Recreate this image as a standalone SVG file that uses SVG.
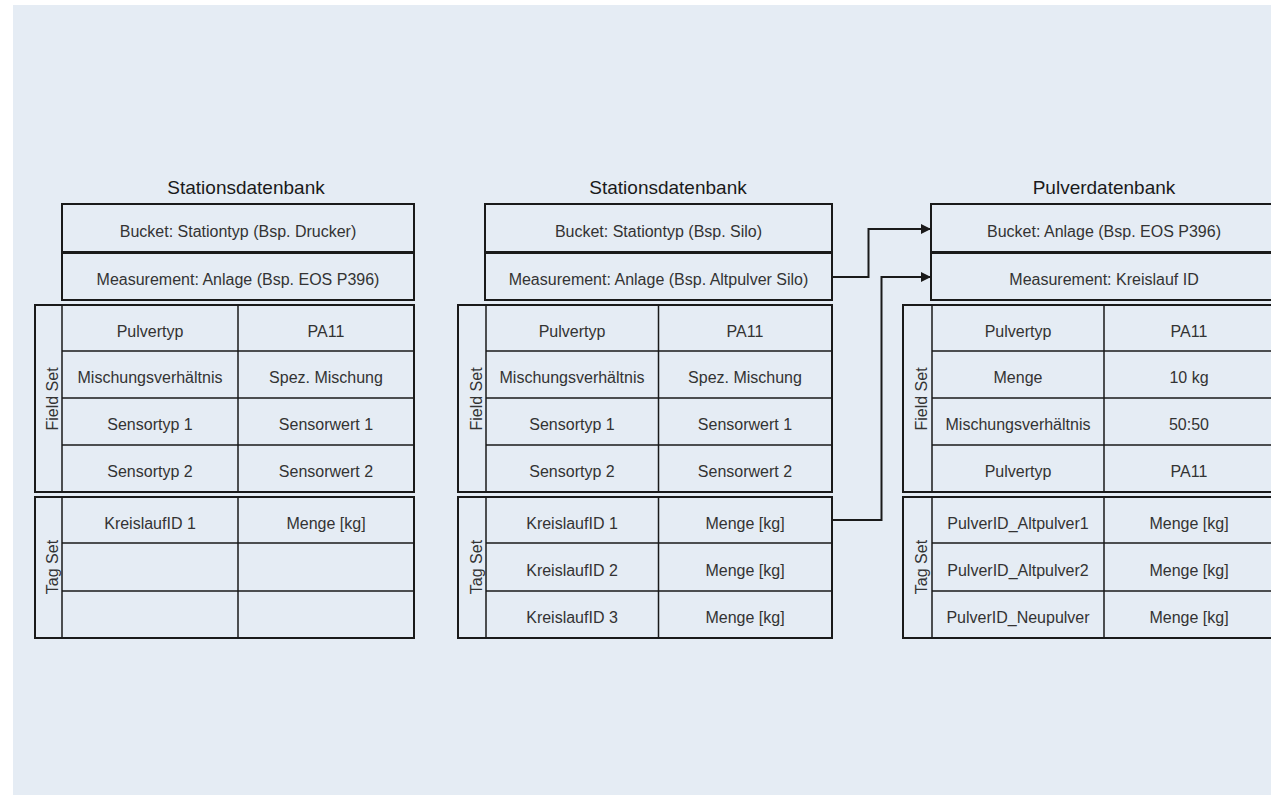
<svg xmlns="http://www.w3.org/2000/svg" width="1271" height="795" viewBox="0 0 1271 795">
  <style>
    .bg { fill: #e5ecf4; }
    .box { fill: none; stroke: #1a1a1a; stroke-width: 2; }
    .grid { fill: none; stroke: #1a1a1a; stroke-width: 1.5; }
    .title { font-family: "Liberation Sans", Arial, sans-serif; font-size: 19px; fill: #1a1a1a; text-anchor: middle; }
    .cell { font-family: "Liberation Sans", Arial, sans-serif; font-size: 16px; fill: #333333; text-anchor: middle; }
    .side { font-family: "Liberation Sans", Arial, sans-serif; font-size: 16px; fill: #333333; text-anchor: middle; }
    .conn { fill: none; stroke: #1a1a1a; stroke-width: 2; }
  </style>
  <defs>
    <marker id="arrow" viewBox="0 0 10 10" refX="10" refY="5" markerWidth="5" markerHeight="5" orient="auto" markerUnits="strokeWidth">
      <path d="M0,0 L10,5 L0,10 Z" fill="#1a1a1a"/>
    </marker>
  </defs>

  <rect class="bg" x="13" y="5" width="1258" height="790"/>

  <!-- Station database: printer -->
  <g id="station-db-printer">
    <text class="title" x="246" y="194">Stationsdatenbank</text>
    <rect class="box" x="62" y="204" width="352" height="48"/>
    <text class="cell" x="238" y="237">Bucket: Stationtyp (Bsp. Drucker)</text>
    <rect class="box" x="62" y="253" width="352" height="47"/>
    <text class="cell" x="238" y="285">Measurement: Anlage (Bsp. EOS P396)</text>

    <g id="printer-field-set">
      <rect class="box" x="35" y="305" width="379" height="187"/>
      <path class="grid" d="M62,305 V492 M238,305 V492 M62,351 H414 M62,398 H414 M62,445 H414"/>
      <text class="side" transform="translate(58,399) rotate(-90)">Field Set</text>
      <text class="cell" x="150" y="337">Pulvertyp</text>
      <text class="cell" x="326" y="337">PA11</text>
      <text class="cell" x="150" y="383">Mischungsverhältnis</text>
      <text class="cell" x="326" y="383">Spez. Mischung</text>
      <text class="cell" x="150" y="430">Sensortyp 1</text>
      <text class="cell" x="326" y="430">Sensorwert 1</text>
      <text class="cell" x="150" y="477">Sensortyp 2</text>
      <text class="cell" x="326" y="477">Sensorwert 2</text>
    </g>

    <g id="printer-tag-set">
      <rect class="box" x="35" y="497" width="379" height="141"/>
      <path class="grid" d="M62,497 V638 M238,497 V638 M62,543 H414 M62,591 H414"/>
      <text class="side" transform="translate(58,567) rotate(-90)">Tag Set</text>
      <text class="cell" x="150" y="529">KreislaufID 1</text>
      <text class="cell" x="326" y="529">Menge [kg]</text>
    </g>
  </g>

  <!-- Station database: silo -->
  <g id="station-db-silo">
    <text class="title" x="668" y="194">Stationsdatenbank</text>
    <rect class="box" x="485" y="204" width="347" height="48"/>
    <text class="cell" x="658.5" y="237">Bucket: Stationtyp (Bsp. Silo)</text>
    <rect class="box" x="485" y="253" width="347" height="47"/>
    <text class="cell" x="658.5" y="285">Measurement: Anlage (Bsp. Altpulver Silo)</text>

    <g id="silo-field-set">
      <rect class="box" x="458" y="305" width="374" height="187"/>
      <path class="grid" d="M486,305 V492 M658.5,305 V492 M486,351 H832 M486,398 H832 M486,445 H832"/>
      <text class="side" transform="translate(481.5,399) rotate(-90)">Field Set</text>
      <text class="cell" x="572" y="337">Pulvertyp</text>
      <text class="cell" x="745" y="337">PA11</text>
      <text class="cell" x="572" y="383">Mischungsverhältnis</text>
      <text class="cell" x="745" y="383">Spez. Mischung</text>
      <text class="cell" x="572" y="430">Sensortyp 1</text>
      <text class="cell" x="745" y="430">Sensorwert 1</text>
      <text class="cell" x="572" y="477">Sensortyp 2</text>
      <text class="cell" x="745" y="477">Sensorwert 2</text>
    </g>

    <g id="silo-tag-set">
      <rect class="box" x="458" y="497" width="374" height="141"/>
      <path class="grid" d="M486,497 V638 M658.5,497 V638 M486,543 H832 M486,591 H832"/>
      <text class="side" transform="translate(481.5,567) rotate(-90)">Tag Set</text>
      <text class="cell" x="572" y="529">KreislaufID 1</text>
      <text class="cell" x="745" y="529">Menge [kg]</text>
      <text class="cell" x="572" y="576">KreislaufID 2</text>
      <text class="cell" x="745" y="576">Menge [kg]</text>
      <text class="cell" x="572" y="623">KreislaufID 3</text>
      <text class="cell" x="745" y="623">Menge [kg]</text>
    </g>
  </g>

  <!-- Powder database -->
  <g id="powder-db">
    <text class="title" x="1104" y="194">Pulverdatenbank</text>
    <rect class="box" x="931" y="204" width="345" height="48"/>
    <text class="cell" x="1104" y="237">Bucket: Anlage (Bsp. EOS P396)</text>
    <rect class="box" x="931" y="253" width="345" height="47"/>
    <text class="cell" x="1104" y="285">Measurement: Kreislauf ID</text>

    <g id="powder-field-set">
      <rect class="box" x="903" y="305" width="373" height="187"/>
      <path class="grid" d="M932,305 V492 M1104,305 V492 M932,351 H1276 M932,398 H1276 M932,445 H1276"/>
      <text class="side" transform="translate(927,399) rotate(-90)">Field Set</text>
      <text class="cell" x="1018" y="337">Pulvertyp</text>
      <text class="cell" x="1189" y="337">PA11</text>
      <text class="cell" x="1018" y="383">Menge</text>
      <text class="cell" x="1189" y="383">10 kg</text>
      <text class="cell" x="1018" y="430">Mischungsverhältnis</text>
      <text class="cell" x="1189" y="430">50:50</text>
      <text class="cell" x="1018" y="477">Pulvertyp</text>
      <text class="cell" x="1189" y="477">PA11</text>
    </g>

    <g id="powder-tag-set">
      <rect class="box" x="903" y="497" width="373" height="141"/>
      <path class="grid" d="M932,497 V638 M1104,497 V638 M932,543 H1276 M932,591 H1276"/>
      <text class="side" transform="translate(927,567) rotate(-90)">Tag Set</text>
      <text class="cell" x="1018" y="529">PulverID_Altpulver1</text>
      <text class="cell" x="1189" y="529">Menge [kg]</text>
      <text class="cell" x="1018" y="576">PulverID_Altpulver2</text>
      <text class="cell" x="1189" y="576">Menge [kg]</text>
      <text class="cell" x="1018" y="623">PulverID_Neupulver</text>
      <text class="cell" x="1189" y="623">Menge [kg]</text>
    </g>
  </g>

  <!-- Links from the silo station into the powder database -->
  <g id="connectors">
    <path class="conn" d="M832,277 H868.5 V229 H931" marker-end="url(#arrow)"/>
    <path class="conn" d="M832,520 H881.5 V277 H931" marker-end="url(#arrow)"/>
  </g>
</svg>
